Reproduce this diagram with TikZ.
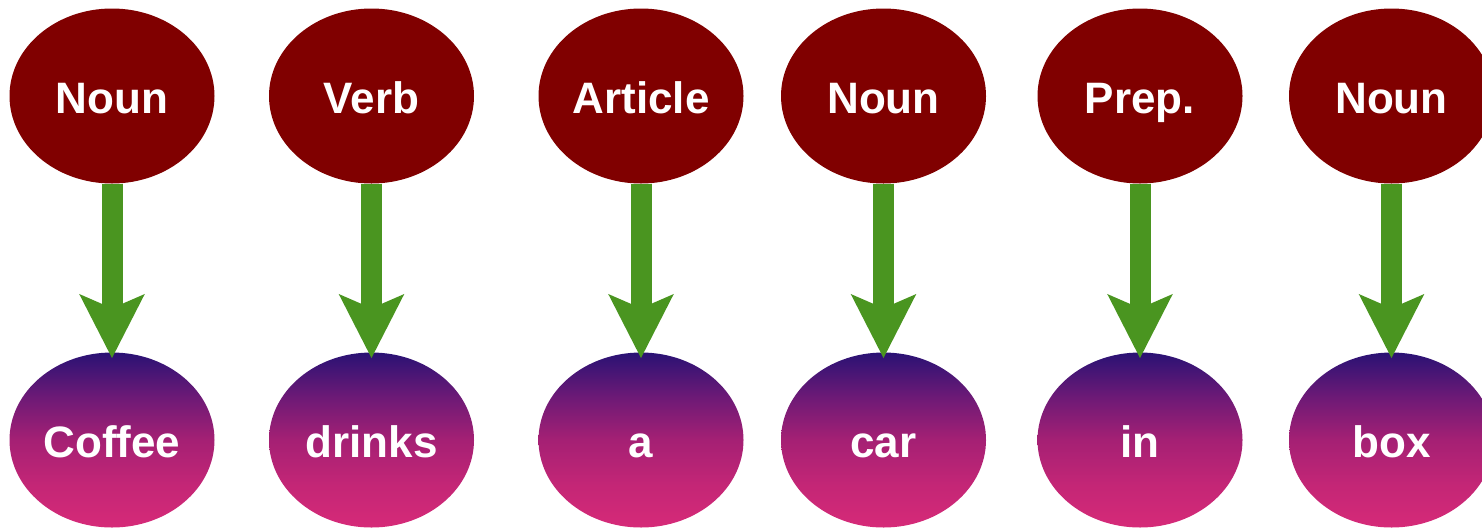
\documentclass[tikz,border=0pt]{standalone}
\usepackage{fontspec}
\setmainfont{Liberation Sans}
\usetikzlibrary{shapes.geometric,arrows.meta}
\definecolor{tagred}{RGB}{128,0,0}
\definecolor{arrowgreen}{RGB}{74,149,32}
\definecolor{wordtop}{RGB}{42,18,116}
\definecolor{wordupper}{RGB}{110,26,118}
\definecolor{wordmid}{RGB}{165,32,116}
\definecolor{wordlower}{RGB}{196,38,118}
\definecolor{wordbottom}{RGB}{214,42,120}
% vertical shading, listed from bottom to top
\pgfdeclareverticalshading{wordshade}{100bp}{
  color(0bp)=(wordbottom); color(25bp)=(wordbottom); color(37bp)=(wordlower);
  color(50bp)=(wordmid); color(62bp)=(wordupper); color(75bp)=(wordtop);
  color(100bp)=(wordtop)}
\tikzset{
  blob/.style={ellipse, minimum width=205pt, minimum height=175pt, inner sep=0pt,
    text height=34pt, text depth=0pt,
    text=white, font=\fontsize{44}{50}\selectfont\bfseries},
  tag/.style={blob, fill=tagred},
  word/.style={blob, shading=wordshade},
  link/.style={arrowgreen, line width=21pt,
    -{Stealth[length=63pt, width=63pt, inset=13pt]}, shorten >=-6pt}
}
\begin{document}
\begin{tikzpicture}[x=1pt, y=-1pt]
  \useasboundingbox (0,0) rectangle (1482,528);
  \foreach \x/\t/\w [count=\i] in {112/Noun/Coffee, 371.5/Verb/drinks, 641/Article/a,
                                   883.5/Noun/car, 1140/Prep./in, 1391.5/Noun/box} {
    \node[tag]  (t\i) at (\x,96)  {\t};
    \node[word] (w\i) at (\x,440) {\w};
    \draw[link] (t\i.south) -- (w\i.north);
  }
\end{tikzpicture}
\end{document}
